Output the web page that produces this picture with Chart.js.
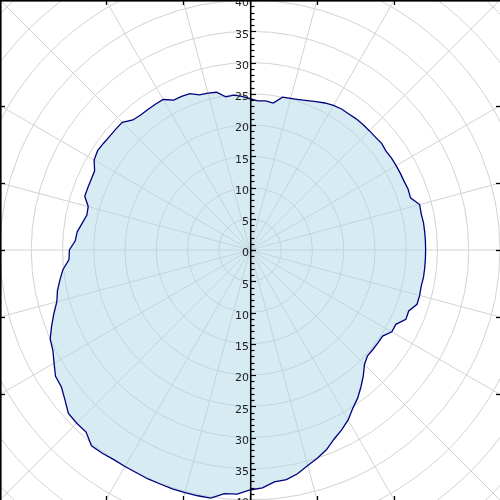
<!DOCTYPE html>
<html>
<head>
<meta charset="utf-8">
<script src="https://cdn.jsdelivr.net/npm/chart.js@4"></script>
<style>
  html, body { margin: 0; padding: 0; background: #fff; }
  #wrap { position: relative; width: 500px; height: 500px; overflow: hidden; background: #fff; }
  #c { position: absolute; left: -125px; top: -125px; }
</style>
</head>
<body>
<div id="wrap"><canvas id="c" width="750" height="750"></canvas></div>
<script>
// angle categories (degrees, clockwise from top)
const angles = [0,3,6,9,12,15,18,21,24,27,30,33,36,39,42,45,48,51,54,57,
  60,63,66,69,72,75,78,81,84,87,90,93,96,99,102,105,108,111,114,117,
  120,123,126,129,132,135,138,141,144,147,150,153,156,159,162,165,168,171,174,177,
  180,183,186,189,192,195,198,201,204,207,210,213,216,219,222,225,228,231,234,237,
  240,243,246,249,252,255,258,261,264,267,270,273,276,279,282,285,288,291,294,297,
  300,303,306,309,312,315,318,321,324,327,330,333,336,339,342,345,348,351,354,357];

// radius values
const radii = [24.2,23.9,24.0,23.8,25.0,25.1,25.3,25.6,26.0,26.4,26.7,26.9,26.9,27.0,27.0,27.0,27.0,27.1,26.9,27.0,
  27.0,27.0,27.0,27.1,27.0,28.1,28.0,28.1,28.1,28.1,28.1,28.1,28.1,28.1,28.0,28.1,28.1,27.2,27.3,26.2,
  26.2,25.3,25.3,25.3,25.3,25.9,27.1,28.2,29.3,30.2,31.4,32.3,33.1,34.2,35.0,35.7,36.6,37.2,37.3,38.1,
  38.4,39.1,39.2,40.2,40.2,40.2,40.2,40.1,40.1,40.0,40.0,40.0,40.2,40.3,39.2,39.2,39.1,38.1,37.3,37.1,
  36.2,35.4,35.0,34.0,33.0,32.0,31.5,30.8,30.1,29.0,28.9,28.0,27.8,27.2,26.7,26.8,27.8,27.8,27.8,27.9,
  28.8,29.1,29.0,28.9,28.9,28.9,28.0,27.8,27.8,27.8,27.8,26.9,26.9,26.8,26.1,26.0,25.8,24.8,24.9,24.6];

// radial tick labels
const tickLabels = ['0','5','10','15','20','25','30','35','40'];
const tickValues = [0,5,10,15,20,25,30,35,40];
const axisMax = 40;
const scaleMax = 60;

const overlay = {
  id: 'overlay',
  afterDraw(chart) {
    const s = chart.scales.r;
    const ctx = chart.ctx;
    const cx = s.xCenter, cy = s.yCenter;
    const R = s.getDistanceFromCenterForValue(axisMax);
    ctx.save();
    // vertical radial axis
    ctx.strokeStyle = '#000';
    ctx.lineWidth = 1.5;
    ctx.beginPath();
    ctx.moveTo(cx + 0.75, cy - R);
    ctx.lineTo(cx + 0.75, cy + R);
    ctx.stroke();
    // minor and major ticks
    ctx.lineWidth = 1.2;
    for (let v = 0; v <= axisMax; v++) {
      const d = s.getDistanceFromCenterForValue(v);
      const len = (v % 5 === 0) ? 5 : 3.5;
      [-1, 1].forEach(sg => {
        const y = Math.round(cy + sg * d) + 0.5;
        ctx.beginPath();
        ctx.moveTo(cx + 1, y);
        ctx.lineTo(cx + 1 + len, y);
        ctx.stroke();
      });
    }
    // labels
    ctx.fillStyle = '#222';
    ctx.font = '11px "DejaVu Sans", sans-serif';
    ctx.textAlign = 'right';
    ctx.textBaseline = 'middle';
    tickValues.forEach((v, i) => {
      const d = s.getDistanceFromCenterForValue(v);
      ctx.fillText(tickLabels[i], cx - 1, cy - d + 3.5);
      if (v !== 0) ctx.fillText(tickLabels[i], cx - 1, cy + d + 3.5);
    });
    // frame
    ctx.strokeStyle = '#000';
    ctx.lineWidth = 1.6;
    ctx.strokeRect(cx - R + 0.8, cy - R + 0.8, 2 * R + 1, 2 * R + 1);
    // frame ticks where 15-degree spokes meet the frame
    ctx.lineWidth = 1.3;
    for (let k = 0; k < 24; k++) {
      const a = k * 15 * Math.PI / 180;
      const sx = Math.sin(a), sy = -Math.cos(a);
      const m = Math.max(Math.abs(sx), Math.abs(sy));
      if (Math.abs(Math.abs(sx) - Math.abs(sy)) < 1e-6) continue;
      const px = cx + sx / m * R, py = cy + sy / m * R;
      ctx.beginPath();
      if (Math.abs(sx) > Math.abs(sy)) {
        const ex = sx > 0 ? cx + R + 1 : cx - R;
        const y = Math.round(py) + 0.5;
        ctx.moveTo(ex, y);
        ctx.lineTo(ex - Math.sign(sx) * 5, y);
      } else {
        const ey = sy > 0 ? cy + R + 1 : cy - R;
        const x = Math.round(px) + 0.5;
        ctx.moveTo(x, ey);
        ctx.lineTo(x, ey - Math.sign(sy) * 5);
      }
      ctx.stroke();
    }
    ctx.restore();
  }
};

new Chart(document.getElementById('c'), {
  type: 'radar',
  data: {
    labels: angles.map(a => a + '°'),
    datasets: [{
      data: radii,
      borderColor: '#00007f',
      borderWidth: 1.3,
      backgroundColor: 'rgba(173,216,230,0.5)',
      fill: true,
      pointRadius: 0,
      tension: 0
    }]
  },
  options: {
    responsive: false,
    devicePixelRatio: 1,
    animation: false,
    layout: { padding: 0 },
    plugins: { legend: { display: false }, tooltip: { enabled: false } },
    scales: {
      r: {
        min: 0,
        max: scaleMax,
        ticks: { display: false, stepSize: 5 },
        pointLabels: { display: false },
        grid: {
          circular: true,
          lineWidth: 1,
          color: c => (c.tick && c.tick.value < scaleMax) ? '#d2d2d2' : 'rgba(0,0,0,0)'
        },
        angleLines: {
          display: true,
          lineWidth: 1,
          color: c => (c.index % 5 === 0) ? '#d2d2d2' : 'rgba(0,0,0,0)'
        }
      }
    }
  },
  plugins: [overlay]
});
</script>
</body>
</html>
